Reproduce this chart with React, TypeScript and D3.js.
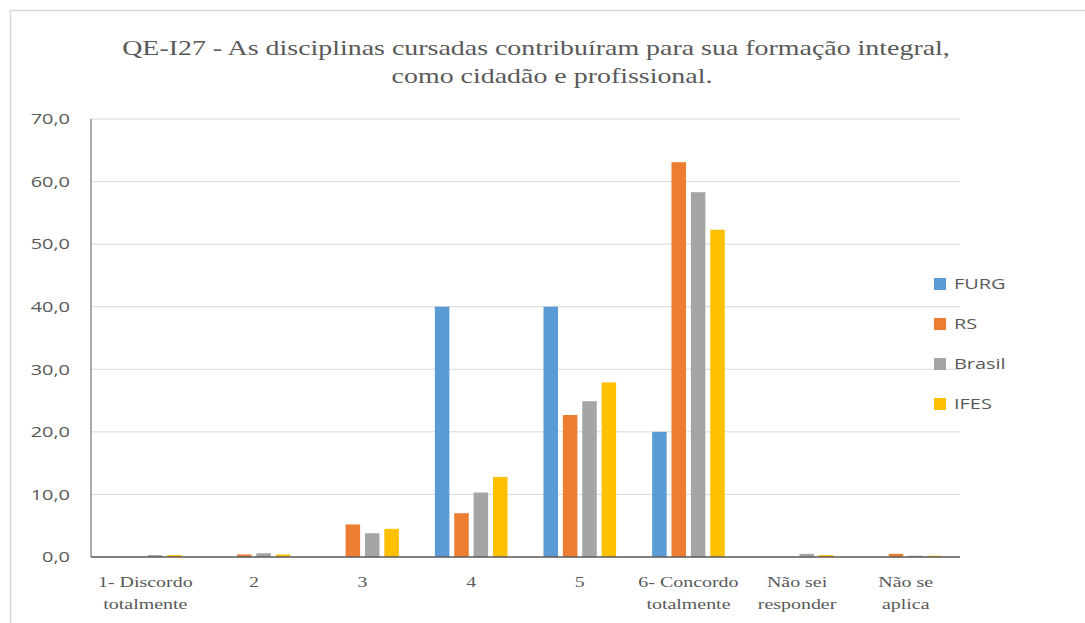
import React from "react";
import * as d3 from "d3";

const categories: string[][] = [
  ["1- Discordo", "totalmente"],
  ["2"],
  ["3"],
  ["4"],
  ["5"],
  ["6- Concordo", "totalmente"],
  ["Não sei", "responder"],
  ["Não se", "aplica"],
];
const seriesNames = ["FURG", "RS", "Brasil", "IFES"];
const seriesColors = ["#5B9BD5", "#ED7D31", "#A5A5A5", "#FFC000"];
const furg = [0, 0, 0, 40, 40, 20, 0, 0];
const rs = [0, 0.4, 5.2, 7.0, 22.7, 63.1, 0, 0.5];
const brasil = [0.3, 0.6, 3.8, 10.3, 24.9, 58.3, 0.5, 0.2];
const ifes = [0.3, 0.4, 4.5, 12.8, 27.9, 52.3, 0.3, 0.2];
const yTicks = [0, 10, 20, 30, 40, 50, 60, 70];
const titleLines = [
  "QE-I27 - As disciplinas cursadas contribuíram para sua formação integral,",
  "como cidadão e profissional.",
];

const W = 1085;
const H = 623;
const left = 91;
const right = 960;
const top = 119;
const bottom = 557;
const SX = 1.33;
const titleCenters = [536, 552];

export default function App() {
  const values = [furg, rs, brasil, ifes];
  const x = d3
    .scaleBand<number>()
    .domain(categories.map((_, i) => i))
    .range([left, right]);
  const inner = d3
    .scaleBand<number>()
    .domain(seriesNames.map((_, i) => i))
    .range([18, x.bandwidth() - 18])
    .paddingInner(0.25);
  const y = d3.scaleLinear().domain([0, 70]).range([bottom, top]);
  const fmt = (v: number) => v.toFixed(1).replace(".", ",");
  const grey = "#595959";
  const serif = "'Liberation Serif', 'Times New Roman', serif";
  const sans = "'Open Sans', sans-serif";

  return (
    <div style={{ position: "absolute", left: 0, top: 0 }}>
      <svg width={W} height={H} style={{ display: "block", background: "#fff" }}>
        <rect x={10.5} y={10.5} width={W} height={H} fill="#fff" stroke="#d9d9d9" strokeWidth={1.5} />
        {titleLines.map((t, i) => (
          <text
            key={i}
            transform={`translate(${titleCenters[i]},${55 + i * 28}) scale(${SX},1)`}
            textAnchor="middle"
            fontFamily={serif}
            fontSize={21}
            fill={grey}
          >
            {t}
          </text>
        ))}
        {yTicks.map((t) => (
          <g key={t}>
            {t > 0 && (
              <line x1={left} x2={right} y1={y(t)} y2={y(t)} stroke="#d9d9d9" strokeWidth={1} />
            )}
            <text
              transform={`translate(70,${y(t)}) scale(${SX},1)`}
              dy="0.35em"
              textAnchor="end"
              fontFamily={sans}
              fontSize={15}
              fill={grey}
            >
              {fmt(t)}
            </text>
          </g>
        ))}
        {categories.map((_, ci) => (
          <g key={ci} transform={`translate(${x(ci)},0)`}>
            {values.map((s, si) => (
              <rect
                key={si}
                x={inner(si)}
                width={inner.bandwidth()}
                y={y(s[ci])}
                height={bottom - y(s[ci])}
                fill={seriesColors[si]}
              />
            ))}
          </g>
        ))}
        <line x1={left} x2={left} y1={top} y2={bottom} stroke="#8c8c8c" strokeWidth={1.5} />
        <line x1={left} x2={right} y1={bottom} y2={bottom} stroke="#595959" strokeWidth={1.5} />
        {categories.map((lines, ci) =>
          lines.map((l, li) => (
            <text
              key={`${ci}-${li}`}
              transform={`translate(${(x(ci) as number) + x.bandwidth() / 2},${587 + li * 22}) scale(${SX},1)`}
              textAnchor="middle"
              fontFamily={serif}
              fontSize={15}
              fill={grey}
            >
              {l}
            </text>
          ))
        )}
        {seriesNames.map((n, i) => (
          <g key={n} transform={`translate(934,${284 + i * 40})`}>
            <rect x={0} y={-6} width={12} height={12} fill={seriesColors[i]} />
            <text
              transform={`translate(20,0) scale(${SX},1)`}
              dy="0.35em"
              fontFamily={sans}
              fontSize={15}
              fill={grey}
            >
              {n}
            </text>
          </g>
        ))}
      </svg>
    </div>
  );
}
